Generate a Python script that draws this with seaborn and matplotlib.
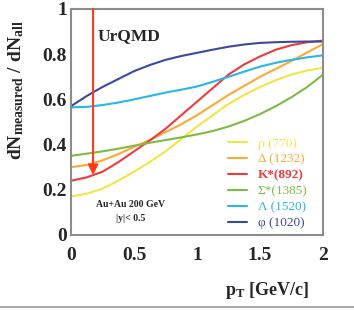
import numpy as np
import pandas as pd
import matplotlib
matplotlib.use('Agg')
import matplotlib.pyplot as plt
import seaborn as sns

# values
pt = [0.0, 0.125, 0.25, 0.375, 0.5, 0.625, 0.75, 0.875, 1.0,
      1.125, 1.25, 1.375, 1.5, 1.625, 1.75, 1.875, 2.0]
rho = [0.17, 0.183, 0.205, 0.24, 0.28, 0.323, 0.37, 0.425, 0.48,
       0.53, 0.58, 0.62, 0.655, 0.685, 0.71, 0.728, 0.74]
delta = [0.30, 0.31, 0.33, 0.358, 0.39, 0.42, 0.455, 0.49, 0.53,
         0.575, 0.62, 0.66, 0.70, 0.735, 0.77, 0.808, 0.845]
kstar = [0.24, 0.255, 0.28, 0.322, 0.37, 0.418, 0.47, 0.53, 0.59,
         0.65, 0.71, 0.755, 0.79, 0.82, 0.84, 0.853, 0.86]
sigma = [0.35, 0.36, 0.37, 0.382, 0.395, 0.408, 0.42, 0.432, 0.445,
         0.46, 0.48, 0.505, 0.535, 0.57, 0.61, 0.655, 0.71]
lam = [0.565, 0.567, 0.575, 0.586, 0.60, 0.615, 0.63, 0.643, 0.657,
       0.678, 0.70, 0.723, 0.745, 0.762, 0.775, 0.786, 0.795]
phi = [0.57, 0.615, 0.655, 0.69, 0.725, 0.752, 0.775, 0.792, 0.806,
       0.82, 0.833, 0.843, 0.85, 0.853, 0.855, 0.856, 0.856]

names = ['ρ (770)', 'Δ (1232)', 'K*(892)', 'Σ*(1385)', 'Λ (1520)', 'φ (1020)']
colors = ['#f5e447', '#ffa833', '#ee3b3b', '#7dbb42', '#29b6e8', '#3b4a9e']
xticks = [0, 0.5, 1, 1.5, 2]
xticklabels = ['0', '0.5', '1', '1.5', '2']
yticks = [0, 0.2, 0.4, 0.6, 0.8, 1.0]
yticklabels = ['0', '0.2', '0.4', '0.6', '0.8', '1']

series = [rho, delta, kstar, sigma, lam, phi]
df = pd.concat([pd.DataFrame({'pT': pt, 'ratio': s, 'particle': n}) for s, n in zip(series, names)], ignore_index=True)

sns.set_theme(style='white')
plt.rcParams['font.family'] = ['Liberation Serif', 'DejaVu Serif']
plt.rcParams['mathtext.fontset'] = 'custom'
plt.rcParams['mathtext.rm'] = 'Liberation Serif:bold'
plt.rcParams['mathtext.it'] = 'Liberation Serif:bold'
plt.rcParams['mathtext.bf'] = 'Liberation Serif:bold'

fig = plt.figure(figsize=(3.54, 3.11), dpi=100)
ax = fig.add_axes([0.2006, 0.2444, 0.712, 0.7267])
pal = dict(zip(names, colors))
sns.lineplot(data=df, x='pT', y='ratio', hue='particle', hue_order=names, palette=pal, lw=1.5, ax=ax, legend=False)

ax.set_xlim(0, 2)
ax.set_ylim(0, 1)
ax.set_xticks(xticks)
ax.set_xticklabels(xticklabels, fontsize=14, fontweight='bold')
ax.set_yticks(yticks)
ax.set_yticklabels(yticklabels, fontsize=14, fontweight='bold')
ax.tick_params(axis='both', direction='in', length=5, width=1, color='#8c8c8c')
ax.tick_params(axis='x', pad=9)
ax.tick_params(axis='y', pad=3)
for sp in ax.spines.values():
    sp.set_color('#8c8c8c')
    sp.set_linewidth(1.5)

ax.set_xlabel('')
ax.set_ylabel(r'$\mathbf{dN_{measured}\ /\ dN_{all}}$', fontsize=14)
ax.yaxis.set_label_coords(-0.18, 0.64)
ax.text(0.778, -0.247, r'$\mathbf{p_T}$ [GeV/c]', transform=ax.transAxes, fontsize=13, fontweight='bold', ha='center', va='center')

ax.text(0.105, 0.88, 'UrQMD', transform=ax.transAxes, fontsize=12.5, fontweight='bold', ha='left', va='center')
ax.text(0.47, 0.137, 'Au+Au 200 GeV', fontsize=7, fontweight='bold', ha='center', va='center')
ax.text(0.47, 0.075, '|y|< 0.5', fontsize=7, fontweight='bold', ha='center', va='center')

ax.annotate('', xy=(0.175, 0.265), xytext=(0.175, 1.0),
            arrowprops=dict(arrowstyle='-|>', color='#ff3a1a', lw=1.5, mutation_scale=15, shrinkA=0, shrinkB=0))

handles = [plt.Line2D([], [], color=c, lw=1.5) for c in colors]
leg = ax.legend(handles, names, loc='upper left', bbox_to_anchor=(0.6, 0.455), frameon=False,
                fontsize=9.5, handlelength=1.5, handletextpad=0.8, labelspacing=0.28, borderaxespad=0)
for t, c in zip(leg.get_texts(), colors):
    t.set_color(c)
leg.get_texts()[2].set_fontweight('bold')

fig.add_artist(plt.Line2D([0, 1], [0.013, 0.013], color='#999999', lw=1.2, transform=fig.transFigure))

fig.savefig('out.png', dpi=100)
plt.close('all')
